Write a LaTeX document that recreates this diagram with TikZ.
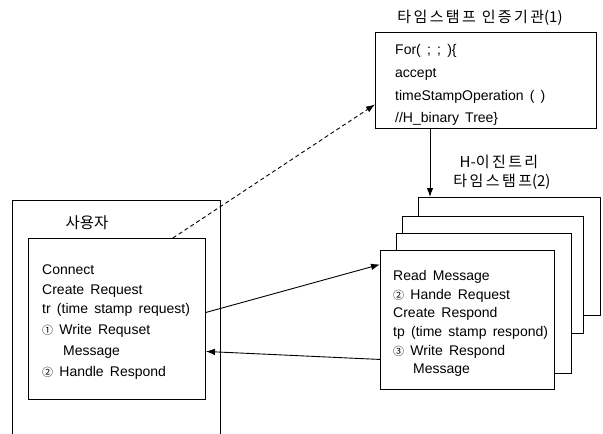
\documentclass[tikz,border=0pt]{standalone}
\usepackage{fontspec}
\setmainfont[WordSpace=1.6]{Liberation Sans}
\newfontfamily\kr{Noto Sans CJK KR}
\newfontfamily\krwide[LetterSpace=16]{Noto Sans CJK KR}
\usetikzlibrary{arrows.meta}
\newcommand\circnum[1]{{\kr\fontsize{11}{11}\selectfont #1}}
\begin{document}
\begin{tikzpicture}[x=1pt,y=-1pt,
  frame/.style={draw,line width=0.9pt,fill=white,inner sep=0pt,anchor=north west},
  line/.style={anchor=base west,inner sep=0pt,font=\fontsize{14}{16}\selectfont},
  label/.style={inner sep=0pt,font=\kr\fontsize{15}{18}\selectfont},
  conn/.style={line width=0.9pt,-{Latex[length=9pt,width=6.5pt]}},
]
\useasboundingbox (0,0) rectangle (603,434);

% user side: outer frame open at the bottom, inner process box
\node[inner sep=0pt,anchor=north west,minimum width=208pt,minimum height=234pt] (user) at (12,200) {};
\draw[line width=0.9pt] (user.south west) -- (user.north west) -- (user.north east) -- (user.south east);
\node[label,font=\kr\fontsize{15.5}{18}\selectfont] (userlbl) at (87,223) {사용자};
\node[frame,minimum width=177pt,minimum height=161pt] (client) at (28,238) {};
\node[line] (u1) at (42,274) {Connect};
\node[line] (u2) at (42,294) {Create Request};
\node[line] (u3) at (42,313) {tr (time stamp request)};
\node[line] (u4) at (42,334) {\circnum{①} Write Requset};
\node[line] (u5) at (63,355) {Message};
\node[line] (u6) at (42,376) {\circnum{②} Handle Respond};

% timestamp authority
\node[label] (tsalbl) at (480,18) {{\krwide 타임스탬프 인증기관}(1)};
\node[frame,minimum width=221pt,minimum height=96pt] (tsa) at (375,32) {};
\node[line] (t1) at (395,54) {For( ; ; )\{};
\node[line] (t2) at (395,77) {accept};
\node[line] (t3) at (395,100) {timeStampOperation ( )};
\node[line] (t4) at (395,122) {//H\_binary Tree\}};

% stack of H-binary-tree timestamp servers
\node[frame,minimum width=182pt,minimum height=118pt] (srvA) at (418,197) {};
\node[frame,minimum width=181pt,minimum height=117pt] (srvB) at (402,216) {};
\node[frame,minimum width=175pt,minimum height=140pt] (srvC) at (396,233) {};
\node[frame,minimum width=174pt,minimum height=139pt] (srvD) at (380,250) {};
\node[label] (tree1) at (499,162) {H-{\krwide 이진트리}};
\node[label] (tree2) at (502,182) {{\krwide 타임스탬프}(2)};
\node[line] (s1) at (393,280) {Read Message};
\node[line] (s2) at (393,299) {\circnum{②} Hande Request};
\node[line] (s3) at (393,317) {Create Respond};
\node[line] (s4) at (393,336) {tp (time stamp respond)};
\node[line] (s5) at (393,355) {\circnum{③} Write Respond};
\node[line] (s6) at (413,373) {Message};

% connectors
\coordinate (down) at ([xshift=55pt]tsa.south west);
\draw[conn] (down) -- (down |- srvA.north);
\draw[conn,dashed,dash pattern=on 4pt off 3pt] ([xshift=-33pt]client.north east) -- ([yshift=-24pt]tsa.west);
\draw[conn] ([yshift=6.5pt]client.east) -- ([yshift=55.5pt]srvD.west);
\draw[conn] ([yshift=-39.5pt]srvD.west) -- ([yshift=-32.5pt]client.east);
\end{tikzpicture}
\end{document}
